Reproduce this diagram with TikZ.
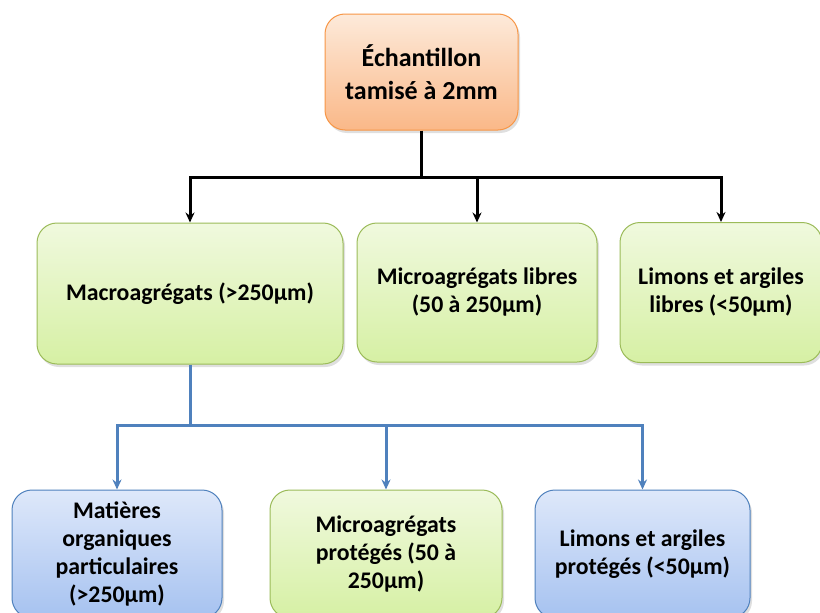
\documentclass[tikz,border=0pt]{standalone}
\usepackage{fontspec}
\setmainfont{Carlito}
\usepackage{tikz}
\usetikzlibrary{arrows.meta, positioning, shadows}
\definecolor{orangeline}{RGB}{247, 150, 70}
\definecolor{orangetop}{RGB}{253, 234, 218}
\definecolor{orangebot}{RGB}{250, 184, 136}
\definecolor{greenline}{RGB}{155, 187, 89}
\definecolor{greentop}{RGB}{240, 249, 222}
\definecolor{greenbot}{RGB}{214, 240, 164}
\definecolor{blueline}{RGB}{79, 129, 189}
\definecolor{bluetop}{RGB}{222, 232, 250}
\definecolor{bluebot}{RGB}{166, 194, 240}

\begin{document}
\begin{tikzpicture}[
  x=1pt, y=-1pt,
  box/.style={rectangle, rounded corners=20pt, draw, line width=1pt,
              align=center, font=\bfseries\fontsize{23.8}{28}\selectfont,
              inner sep=4pt,
              drop shadow={opacity=0.25, shadow xshift=2pt, shadow yshift=-3pt}},
  orangebox/.style={box, draw=orangeline, top color=orangetop, bottom color=orangebot},
  greenbox/.style={box, draw=greenline, top color=greentop, bottom color=greenbot},
  bluebox/.style={box, draw=blueline, top color=bluetop, bottom color=bluebot},
  arrow/.style={-{Stealth[length=10pt, width=9pt]}, line width=3pt},
  blackarrow/.style={arrow, color=black},
  bluearrow/.style={arrow, color=blueline}
]
\useasboundingbox (0,0) rectangle (820,613);
\fill[white] (0,0) rectangle (820,613);

% top
\node[orangebox, minimum width=193pt, minimum height=116pt,
      font=\bfseries\fontsize{26}{33}\selectfont] (sample) at (421.5,72)
  {Échantillon\\tamisé à 2mm};

% first fractionation
\node[greenbox, minimum width=306pt, minimum height=141pt] (macro) at (190,293.5)
  {Macroagrégats (>250µm)};
\node[greenbox, minimum width=240pt, minimum height=139pt] (microfree) at (477,292.5)
  {Microagrégats libres\\(50 à 250µm)};
\node[greenbox, minimum width=202pt, minimum height=140pt] (siltfree) at (721,292.5)
  {Limons et argiles\\libres (<50µm)};

% second fractionation
\node[bluebox, minimum width=210pt, minimum height=128pt] (pom) at (117,554)
  {Matières\\organiques\\particulaires\\(>250µm)};
\node[greenbox, minimum width=232pt, minimum height=128pt] (microprot) at (386,554)
  {Microagrégats\\protégés (50 à\\250µm)};
\node[bluebox, minimum width=215pt, minimum height=128pt] (siltprot) at (642.5,554)
  {Limons et argiles\\protégés (<50µm)};

% connectors
\coordinate (split) at (421.5,177);
\coordinate (splitmacro) at (190,425);

\draw[line width=3pt] (sample.south) -- (split);
\draw[blackarrow] (split) -| (macro.north);
\draw[blackarrow] (split) -| (microfree.north);
\draw[blackarrow] (split) -| (siltfree.north);

\draw[line width=3pt, blueline] (macro.south) -- (splitmacro);
\draw[bluearrow] (splitmacro) -| (pom.north);
\draw[bluearrow] (splitmacro) -| (microprot.north);
\draw[bluearrow] (splitmacro) -| (siltprot.north);
\end{tikzpicture}
\end{document}
